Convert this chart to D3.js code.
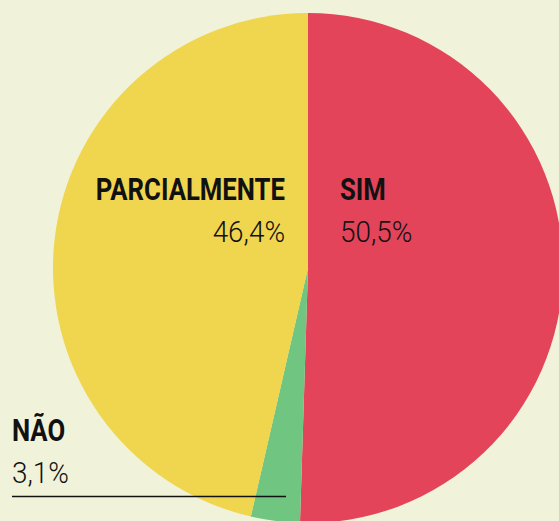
<!DOCTYPE html>
<html>
<head>
<meta charset="utf-8">
<script src="https://cdn.jsdelivr.net/npm/d3@7"></script>
<style>
  html, body { margin: 0; padding: 0; background: #f0f3d9; }
  svg { display: block; }
  .lbl { font-family: Roboto, "Liberation Sans", sans-serif; fill: #111; }
  .lbl-name { font-weight: bold; font-size: 31px; }
  .lbl-pct { font-weight: 300; font-size: 30px; }
</style>
</head>
<body>
<div id="chart"></div>
<script>
// dados
const categories = ['SIM', 'NÃO', 'PARCIALMENTE'];
const values = [50.5, 3.1, 46.4];
const pctLabels = ['50,5%', '3,1%', '46,4%'];
const colors = ['#e4445a', '#70c580', '#f0d54f'];

const width = 559, height = 521;
const cx = 308, cy = 268, radius = 255;
const squeezeName = 0.83; // fonte condensada
const squeezePct = 0.93;

const svg = d3.select('#chart').append('svg')
    .attr('width', width)
    .attr('height', height);

const slices = categories.map((c, i) => ({ name: c, value: values[i], pct: pctLabels[i], color: colors[i] }));

const pie = d3.pie()
    .value(d => d.value)
    .sort(null);

const arc = d3.arc()
    .innerRadius(0)
    .outerRadius(radius);

const g = svg.append('g')
    .attr('transform', `translate(${cx},${cy})`);

g.selectAll('path')
    .data(pie(slices))
    .enter()
    .append('path')
    .attr('d', arc)
    .attr('fill', d => d.data.color);

// rótulos
const labelPos = {
    'SIM': { x: 340, y: 200, anchor: 'start' },
    'PARCIALMENTE': { x: 285, y: 200, anchor: 'end' },
    'NÃO': { x: 12, y: 441, anchor: 'start' }
};

slices.forEach(d => {
    const p = labelPos[d.name];
    svg.append('text')
        .attr('class', 'lbl lbl-name')
        .attr('transform', `translate(${p.x},${p.y}) scale(${squeezeName},1)`)
        .attr('text-anchor', p.anchor)
        .text(d.name);
    svg.append('text')
        .attr('class', 'lbl lbl-pct')
        .attr('transform', `translate(${p.x},${p.y + 42}) scale(${squeezePct},1)`)
        .attr('text-anchor', p.anchor)
        .text(d.pct);
});

// linha sob o NÃO
svg.append('line')
    .attr('x1', 12)
    .attr('x2', 286)
    .attr('y1', 496.5)
    .attr('y2', 496.5)
    .attr('stroke', '#111')
    .attr('stroke-width', 1.3);
</script>
</body>
</html>
